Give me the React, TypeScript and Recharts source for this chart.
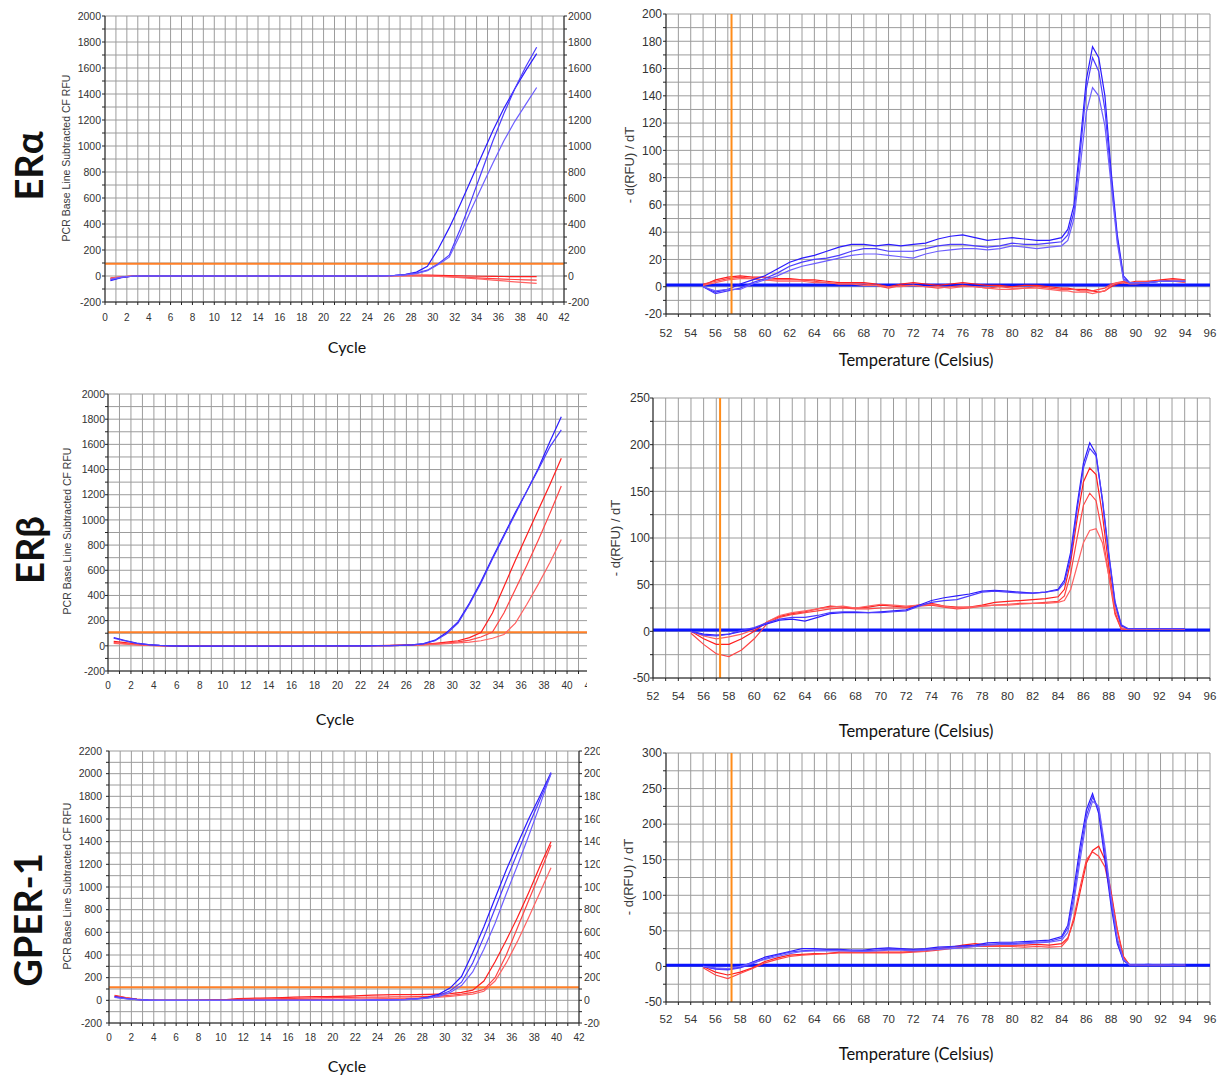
import { LineChart, Line, XAxis, YAxis, CartesianGrid, ReferenceLine } from "recharts";

// ---------- axes ----------
const AMP_X_TICKS = [0, 1, 2, 3, 4, 5, 6, 7, 8, 9, 10, 11, 12, 13, 14, 15, 16, 17, 18, 19, 20, 21, 22, 23, 24, 25, 26, 27, 28, 29, 30, 31, 32, 33, 34, 35, 36, 37, 38, 39, 40, 41, 42];
const ERA_AMP_Y_TICKS = [-200, -100, 0, 100, 200, 300, 400, 500, 600, 700, 800, 900, 1000, 1100, 1200, 1300, 1400, 1500, 1600, 1700, 1800, 1900, 2000];
const GP_AMP_Y_TICKS = [-200, -100, 0, 100, 200, 300, 400, 500, 600, 700, 800, 900, 1000, 1100, 1200, 1300, 1400, 1500, 1600, 1700, 1800, 1900, 2000, 2100, 2200];
const MELT_X_TICKS = [52, 53, 54, 55, 56, 57, 58, 59, 60, 61, 62, 63, 64, 65, 66, 67, 68, 69, 70, 71, 72, 73, 74, 75, 76, 77, 78, 79, 80, 81, 82, 83, 84, 85, 86, 87, 88, 89, 90, 91, 92, 93, 94, 95, 96];
const ERA_MELT_Y_TICKS = [-20, -10, 0, 10, 20, 30, 40, 50, 60, 70, 80, 90, 100, 110, 120, 130, 140, 150, 160, 170, 180, 190, 200];
const ERB_MELT_Y_TICKS = [-50, -25, 0, 25, 50, 75, 100, 125, 150, 175, 200, 225, 250];
const GP_MELT_Y_TICKS = [-50, -25, 0, 25, 50, 75, 100, 125, 150, 175, 200, 225, 250, 275, 300];

// ---------- amplification (x = cycle position) ----------
const CYCLE_X = [0.5, 1.5, 2.5, 3.5, 4.5, 5.5, 6.5, 7.5, 8.5, 9.5, 10.5, 11.5, 12.5, 13.5, 14.5, 15.5, 16.5, 17.5, 18.5, 19.5, 20.5, 21.5, 22.5, 23.5, 24.5, 25.5, 26.5, 27.5, 28.5, 29.5, 30.5, 31.5, 32.5, 33.5, 34.5, 35.5, 36.5, 37.5, 38.5, 39.5];

const ERA_AMP_B1 = [-35, -12, -2, 0, 0, 0, 0, 0, 0, 0, 0, 0, 0, 0, 0, 0, 0, 0, 0, 0, 0, 0, 0, 0, 0, 2, 5, 12, 30, 75, 210, 370, 550, 740, 930, 1120, 1290, 1440, 1580, 1710];
const ERA_AMP_B2 = [-30, -10, -2, 0, 0, 0, 0, 0, 0, 0, 0, 0, 0, 0, 0, 0, 0, 0, 0, 0, 0, 0, 0, 0, 0, 1, 4, 10, 22, 45, 95, 160, 360, 580, 810, 1040, 1250, 1440, 1610, 1760];
const ERA_AMP_B3 = [-25, -8, -1, 0, 0, 0, 0, 0, 0, 0, 0, 0, 0, 0, 0, 0, 0, 0, 0, 0, 0, 0, 0, 0, 0, 1, 3, 8, 18, 40, 88, 145, 320, 510, 690, 870, 1040, 1190, 1320, 1450];
const ERA_AMP_R1 = [-20, -8, -1, 0, 0, 0, 0, 0, 0, 0, 0, 0, 0, 0, 0, 0, 0, 0, 0, 0, 0, 0, 0, 0, 0, 0, 2, 4, 6, 6, 5, 4, 2, 0, -2, -3, -4, -5, -5, -5];
const ERA_AMP_R2 = [-15, -6, -1, 0, 0, 0, 0, 0, 0, 0, 0, 0, 0, 0, 0, 0, 0, 0, 0, 0, 0, 0, 0, 0, 0, 1, 2, 3, 2, 0, -2, -5, -8, -12, -16, -20, -24, -27, -30, -32];
const ERA_AMP_R3 = [-18, -7, -1, 0, 0, 0, 0, 0, 0, 0, 0, 0, 0, 0, 0, 0, 0, 0, 0, 0, 0, 0, 0, 0, 0, 0, 0, 1, 1, 0, -3, -7, -12, -18, -24, -31, -38, -45, -51, -57];

const ERB_AMP_B1 = [65, 42, 22, 10, 3, 0, -2, -3, -3, -3, -3, -3, -3, -3, -2, -2, -2, -1, -1, 0, 0, 0, 0, 1, 2, 4, 8, 18, 45, 105, 190, 340, 510, 700, 880, 1060, 1230, 1410, 1620, 1820];
const ERB_AMP_B2 = [60, 38, 20, 9, 3, 0, -2, -3, -3, -3, -3, -3, -3, -3, -2, -2, -2, -1, -1, 0, 0, 0, 0, 1, 2, 4, 7, 16, 40, 95, 180, 330, 500, 690, 870, 1050, 1230, 1400, 1580, 1715];
const ERB_AMP_R1 = [35, 25, 14, 6, 2, 0, -2, -3, -3, -3, -3, -3, -3, -3, -3, -2, -2, -1, 0, 0, 0, 1, 1, 2, 3, 5, 8, 12, 20, 30, 40, 65, 105, 260, 470, 680, 880, 1080, 1280, 1490];
const ERB_AMP_R2 = [25, 18, 10, 4, 1, 0, -2, -3, -3, -3, -3, -3, -3, -3, -3, -2, -2, -1, 0, 0, 0, 0, 1, 1, 2, 4, 6, 10, 15, 22, 32, 45, 70, 110, 260, 450, 640, 840, 1050, 1270];
const ERB_AMP_R3 = [20, 14, 8, 3, 1, 0, -2, -3, -3, -3, -3, -3, -3, -3, -3, -2, -2, -1, 0, 0, 0, 0, 0, 1, 2, 3, 5, 8, 12, 18, 24, 30, 40, 60, 90, 180, 330, 490, 660, 845];

const GP_AMP_B1 = [32, 18, 8, 2, 0, 0, 0, 0, -1, -1, 0, 0, 0, 0, 0, 0, 0, 0, 0, 0, 0, 0, 0, 1, 3, 5, 8, 14, 28, 55, 110, 210, 420, 650, 900, 1150, 1380, 1600, 1800, 2010];
const GP_AMP_B2 = [28, 15, 6, 2, 0, 0, 0, 0, -1, -1, 0, 0, 0, 0, 0, 0, 0, 0, 0, 0, 0, 0, 0, 1, 2, 4, 7, 12, 24, 45, 85, 160, 330, 560, 810, 1060, 1300, 1540, 1770, 2000];
const GP_AMP_B3 = [25, 14, 6, 1, 0, 0, 0, 0, -1, -1, 0, 0, 0, 0, 0, 0, 0, 0, 0, 0, 0, 0, 0, 1, 2, 4, 6, 10, 20, 35, 70, 130, 250, 450, 680, 940, 1190, 1450, 1720, 2000];
const GP_AMP_R1 = [45, 25, 10, 3, 0, 0, 0, 0, 2, 4, 6, 15, 18, 20, 22, 24, 28, 30, 32, 33, 35, 38, 42, 46, 48, 50, 50, 50, 52, 55, 60, 70, 90, 170, 340, 530, 730, 950, 1180, 1400];
const GP_AMP_R2 = [40, 22, 8, 2, 0, 0, 0, 0, 1, 2, 4, 8, 10, 12, 14, 16, 18, 20, 22, 24, 25, 26, 27, 28, 29, 30, 31, 32, 35, 38, 45, 55, 70, 95, 200, 400, 640, 880, 1120, 1370];
const GP_AMP_R3 = [35, 20, 8, 2, 0, 0, 0, 0, 0, 0, 1, 2, 3, 4, 5, 6, 7, 8, 9, 10, 11, 12, 13, 14, 15, 16, 18, 20, 24, 28, 35, 45, 55, 80, 170, 330, 520, 730, 950, 1170];

// ---------- melt curves (x = temperature) ----------
const TEMPS = [55, 56, 57, 58, 59, 60, 61, 62, 63, 64, 65, 66, 67, 68, 69, 70, 71, 72, 73, 74, 75, 76, 77, 78, 79, 80, 81, 82, 83, 84, 84.5, 85, 85.5, 86, 86.5, 87, 87.5, 88, 88.5, 89, 89.5, 90, 91, 92, 93, 94];

const ERA_MELT_B1 = [0, -4, -2, 2, 5, 8, 13, 18, 21, 23, 26, 29, 31, 31, 30, 31, 30, 31, 32, 35, 37, 38, 36, 34, 35, 36, 35, 34, 34, 36, 42, 60, 105, 152, 176, 168, 140, 85, 38, 8, 3, 3, 3, 4, 4, 4];
const ERA_MELT_B2 = [0, -5, -3, -1, 3, 6, 10, 15, 18, 20, 21, 23, 26, 28, 28, 26, 26, 26, 28, 30, 31, 31, 30, 29, 30, 32, 31, 31, 32, 33, 38, 55, 98, 145, 168, 158, 130, 80, 35, 6, 3, 3, 3, 4, 4, 4];
const ERA_MELT_B3 = [0, -3, -2, -2, 2, 5, 8, 12, 15, 17, 19, 21, 23, 24, 24, 23, 22, 21, 24, 26, 27, 28, 28, 27, 28, 30, 29, 28, 29, 30, 34, 50, 88, 128, 146, 140, 118, 75, 32, 5, 3, 3, 3, 4, 4, 4];
const ERA_MELT_R1 = [1, 5, 7, 8, 7, 7, 6, 6, 5, 5, 4, 3, 3, 3, 2, 0, 2, 3, 2, 1, 2, 3, 2, 1, 1, 0, 1, 1, 0, -1, -1, -2, -2, -2, -3, -4, -3, 0, 2, 3, 3, 4, 4, 5, 6, 5];
const ERA_MELT_R2 = [2, 4, 6, 7, 6, 5, 5, 5, 5, 4, 3, 2, 2, 2, 1, -1, 1, 1, 0, -1, 0, 1, 0, -1, 0, -1, -1, 0, -1, -2, -2, -2, -3, -3, -3, -2, -1, 2, 3, 4, 3, 3, 4, 4, 5, 5];
const ERA_MELT_R3 = [1, 3, 5, 6, 6, 5, 4, 4, 4, 3, 3, 2, 2, 1, 1, 0, 0, 1, 0, 0, -1, 0, 0, -1, -2, -2, -1, -1, -2, -3, -3, -4, -4, -4, -5, -4, -3, 1, 3, 3, 2, 2, 3, 4, 4, 3];

const ERB_MELT_B1 = [0, -3, -4, -3, 0, 3, 8, 12, 13, 11, 15, 19, 20, 20, 20, 21, 22, 23, 28, 33, 36, 38, 40, 43, 44, 43, 42, 41, 42, 45, 55, 85, 135, 180, 202, 190, 140, 82, 30, 6, 3, 3, 3, 3, 3, 3];
const ERB_MELT_B2 = [0, -4, -5, -3, 1, 4, 9, 13, 15, 15, 17, 20, 21, 21, 20, 20, 21, 22, 27, 31, 33, 34, 38, 42, 43, 42, 41, 41, 42, 44, 52, 80, 130, 175, 196, 188, 142, 84, 32, 7, 3, 3, 3, 3, 3, 3];
const ERB_MELT_R1 = [0, -8, -14, -14, -8, 0, 10, 16, 19, 21, 24, 27, 26, 25, 26, 28, 27, 26, 28, 30, 27, 26, 26, 28, 31, 32, 33, 34, 35, 37, 45, 75, 120, 160, 175, 168, 125, 70, 20, 2, 2, 2, 2, 2, 2, 2];
const ERB_MELT_R2 = [-2, -14, -24, -27, -20, -8, 8, 15, 18, 20, 22, 24, 25, 24, 24, 25, 25, 25, 27, 28, 26, 24, 25, 27, 28, 29, 30, 30, 31, 32, 38, 62, 100, 135, 148, 140, 105, 60, 18, 2, 2, 2, 2, 2, 2, 2];
const ERB_MELT_R3 = [0, -5, -8, -6, -3, 2, 10, 17, 20, 22, 24, 26, 27, 25, 27, 29, 28, 27, 28, 29, 27, 25, 26, 27, 28, 28, 29, 30, 30, 31, 33, 45, 70, 95, 108, 110, 95, 60, 25, 4, 2, 2, 2, 2, 2, 2];

const GP_MELT_B1 = [0, -3, -4, -1, 6, 13, 17, 21, 25, 25, 24, 24, 23, 23, 25, 26, 25, 24, 25, 27, 28, 29, 30, 33, 34, 34, 35, 36, 37, 42, 58, 110, 170, 220, 243, 215, 150, 85, 32, 8, 2, 2, 3, 2, 3, 2];
const GP_MELT_B2 = [0, -4, -5, -2, 4, 11, 16, 20, 22, 23, 23, 23, 22, 22, 23, 24, 24, 23, 24, 25, 27, 28, 29, 31, 32, 32, 33, 34, 35, 40, 54, 100, 160, 212, 238, 222, 160, 92, 36, 9, 2, 2, 2, 2, 2, 2];
const GP_MELT_B3 = [0, -2, -3, 0, 5, 10, 14, 18, 21, 22, 22, 22, 22, 21, 22, 23, 23, 22, 23, 24, 25, 26, 28, 30, 31, 31, 32, 33, 34, 37, 48, 92, 150, 205, 232, 225, 168, 98, 40, 10, 2, 2, 2, 2, 2, 2];
const GP_MELT_R1 = [0, -8, -12, -8, -2, 7, 12, 16, 17, 18, 18, 20, 20, 20, 20, 20, 20, 21, 22, 25, 27, 30, 32, 30, 30, 30, 30, 31, 30, 32, 40, 65, 105, 145, 163, 169, 150, 105, 52, 14, 2, 2, 2, 2, 2, 2];
const GP_MELT_R2 = [-2, -12, -17, -10, -3, 5, 10, 14, 16, 17, 18, 19, 19, 19, 19, 19, 19, 20, 21, 23, 25, 27, 28, 28, 28, 28, 27, 28, 27, 28, 38, 70, 112, 150, 161, 155, 140, 100, 50, 12, 2, 2, 2, 2, 2, 2];

const BLUES = ["#2a1aff", "#4b3bff", "#6d5eff"];
const REDS = ["#ff1f1f", "#ff4444", "#ff6262"];

type Series = { key: string; color: string; values: number[] };

type PanelProps = {
  left: number; top: number; plotW: number; plotH: number;
  yW: number; rightW: number; rightAxis?: boolean; clipW?: number;
  mTop: number; xH: number;
  xs: number[]; series: Series[];
  xDomain: [number, number]; xTicks: number[];
  yDomain: [number, number]; yTicks: number[]; yEvery: number;
  fx: number; fy: number; xMargin: number; yMargin: number; rMargin?: number;
  threshold?: number; vline?: number; hline?: number;
};

const every = (n: number) => (v: number) => (Math.abs(v % n) < 1e-9 ? String(v) : "");

function Panel(p: PanelProps) {
  const width = p.yW + p.plotW + p.rightW;
  const height = p.mTop + p.plotH + p.xH;
  const data = p.xs.map((x, i) => {
    const row: Record<string, number> = { x };
    p.series.forEach((s) => (row[s.key] = s.values[i]));
    return row;
  });
  const axisStyle = { stroke: "#222" };
  return (
    <div
      style={{
        position: "absolute",
        left: p.left - p.yW,
        top: p.top - p.mTop,
        width: p.clipW ?? width,
        height,
        overflow: "hidden",
      }}
    >
      <LineChart
        width={width}
        height={height}
        data={data}
        margin={{ top: p.mTop, right: p.rightAxis ? 0 : p.rightW, bottom: 0, left: 0 }}
      >
        <CartesianGrid yAxisId="l" stroke="#9c9c9c" strokeWidth={1} />
        <XAxis
          type="number"
          dataKey="x"
          domain={p.xDomain}
          ticks={p.xTicks}
          interval={0}
          allowDataOverflow
          height={p.xH}
          tickFormatter={every(2)}
          axisLine={axisStyle}
          tickLine={axisStyle}
          tickSize={3}
          tickMargin={p.xMargin}
          tick={{ fill: "#333", fontSize: p.fx }}
        />
        <YAxis
          yAxisId="l"
          type="number"
          domain={p.yDomain}
          ticks={p.yTicks}
          interval={0}
          allowDataOverflow
          width={p.yW}
          tickFormatter={every(p.yEvery)}
          axisLine={axisStyle}
          tickLine={axisStyle}
          tickSize={3}
          tickMargin={p.yMargin}
          tick={{ fill: "#333", fontSize: p.fy }}
        />
        {p.rightAxis && (
          <YAxis
            yAxisId="r"
            orientation="right"
            type="number"
            domain={p.yDomain}
            ticks={p.yTicks}
            interval={0}
            allowDataOverflow
            width={p.rightW}
            tickFormatter={every(p.yEvery)}
            axisLine={axisStyle}
            tickLine={axisStyle}
            tickSize={3}
            tickMargin={p.rMargin ?? 1}
            tick={{ fill: "#333", fontSize: p.fy }}
          />
        )}
        {p.threshold !== undefined && (
          <ReferenceLine yAxisId="l" y={p.threshold} stroke="#ff7f27" strokeWidth={2} />
        )}
        {p.hline !== undefined && (
          <ReferenceLine yAxisId="l" y={p.hline} stroke="#0a14ff" strokeWidth={3} />
        )}
        {p.series.map((s) => (
          <Line
            key={s.key}
            yAxisId="l"
            type="linear"
            dataKey={s.key}
            stroke={s.color}
            strokeWidth={1.2}
            dot={false}
            isAnimationActive={false}
          />
        ))}
        {p.vline !== undefined && (
          <ReferenceLine yAxisId="l" x={p.vline} stroke="#ff8c1a" strokeWidth={2} />
        )}
      </LineChart>
    </div>
  );
}

const amp = (b: number[][], r: number[][]): Series[] => [
  ...r.map((v, i) => ({ key: "r" + i, color: REDS[i], values: v })),
  ...b.map((v, i) => ({ key: "b" + i, color: BLUES[i], values: v })),
];

function Label({ text, x, y, size, rotate, weight, family, color }: {
  text: string; x: number; y: number; size: number; rotate?: boolean; weight?: number; family?: string; color?: string;
}) {
  return (
    <div
      style={{
        position: "absolute",
        left: x,
        top: y,
        transform: `translate(-50%, -50%)${rotate ? " rotate(-90deg)" : ""}`,
        fontSize: size,
        fontWeight: weight ?? 400,
        fontFamily: family ?? "Lato, 'Liberation Sans', sans-serif",
        color: color ?? "#111",
        whiteSpace: "nowrap",
        lineHeight: 1,
      }}
    >
      {text}
    </div>
  );
}

export default function App() {
  const tick = "'Liberation Sans', Arial, sans-serif";
  return (
    <div
      style={{
        position: "absolute",
        left: 0,
        top: 0,
        width: 1225,
        height: 1076,
        background: "#fff",
        fontFamily: tick,
        overflow: "hidden",
      }}
    >
      {/* ERα */}
      <Panel
        left={105} top={16} plotW={459} plotH={286} yW={40} rightW={40} rightAxis mTop={8} xH={28}
        xs={CYCLE_X} series={amp([ERA_AMP_B1, ERA_AMP_B2, ERA_AMP_B3], [ERA_AMP_R1, ERA_AMP_R2, ERA_AMP_R3])}
        xDomain={[0, 42]} xTicks={AMP_X_TICKS} yDomain={[-200, 2000]} yTicks={ERA_AMP_Y_TICKS} yEvery={200}
        fx={10} fy={10.5} xMargin={9} yMargin={1} threshold={95}
      />
      <Panel
        left={666} top={14} plotW={544} plotH={300} yW={44} rightW={14} mTop={8} xH={32}
        xs={TEMPS} series={amp([ERA_MELT_B1, ERA_MELT_B2, ERA_MELT_B3], [ERA_MELT_R1, ERA_MELT_R2, ERA_MELT_R3])}
        xDomain={[52, 96]} xTicks={MELT_X_TICKS} yDomain={[-20, 200]} yTicks={ERA_MELT_Y_TICKS} yEvery={20}
        fx={11.5} fy={12} xMargin={12} yMargin={1} vline={57.3} hline={1.3}
      />
      {/* ERβ */}
      <Panel
        left={108} top={394} plotW={482} plotH={277} yW={44} rightW={12} clipW={523} mTop={8} xH={28}
        xs={CYCLE_X} series={amp([ERB_AMP_B1, ERB_AMP_B2], [ERB_AMP_R1, ERB_AMP_R2, ERB_AMP_R3])}
        xDomain={[0, 42]} xTicks={AMP_X_TICKS} yDomain={[-200, 2000]} yTicks={ERA_AMP_Y_TICKS} yEvery={200}
        fx={10} fy={10.5} xMargin={8} yMargin={0} threshold={107}
      />
      <Panel
        left={653} top={398} plotW={557} plotH={280} yW={44} rightW={14} mTop={8} xH={32}
        xs={TEMPS} series={amp([ERB_MELT_B1, ERB_MELT_B2], [ERB_MELT_R1, ERB_MELT_R2, ERB_MELT_R3])}
        xDomain={[52, 96]} xTicks={MELT_X_TICKS} yDomain={[-50, 250]} yTicks={ERB_MELT_Y_TICKS} yEvery={50}
        fx={11.5} fy={12} xMargin={11} yMargin={0} vline={57.3} hline={1.3}
      />
      {/* GPER-1 */}
      <Panel
        left={109} top={751} plotW={470} plotH={272} yW={44} rightW={40} rightAxis clipW={535} mTop={8} xH={28}
        xs={CYCLE_X} series={amp([GP_AMP_B1, GP_AMP_B2, GP_AMP_B3], [GP_AMP_R1, GP_AMP_R2, GP_AMP_R3])}
        xDomain={[0, 42]} xTicks={AMP_X_TICKS} yDomain={[-200, 2200]} yTicks={GP_AMP_Y_TICKS} yEvery={200}
        fx={10} fy={10.5} xMargin={8} yMargin={4} rMargin={2} threshold={115}
      />
      <Panel
        left={666} top={753} plotW={544} plotH={249} yW={44} rightW={14} mTop={8} xH={32}
        xs={TEMPS} series={amp([GP_MELT_B1, GP_MELT_B2, GP_MELT_B3], [GP_MELT_R1, GP_MELT_R2])}
        xDomain={[52, 96]} xTicks={MELT_X_TICKS} yDomain={[-50, 300]} yTicks={GP_MELT_Y_TICKS} yEvery={50}
        fx={11.5} fy={12} xMargin={10} yMargin={1} vline={57.3} hline={1.5}
      />

      {/* gene labels */}
      <Label text="ERα" x={28} y={166} size={38} rotate weight={700} />
      <Label text="ERβ" x={29} y={550} size={38} rotate weight={700} />
      <Label text="GPER-1" x={27} y={920} size={38} rotate weight={700} />

      {/* axis titles */}
      <Label text="PCR Base Line Subtracted CF RFU" x={66} y={158} size={10.5} rotate family={tick} color="#3a3a3a" />
      <Label text="PCR Base Line Subtracted CF RFU" x={67} y={531} size={10.5} rotate family={tick} color="#3a3a3a" />
      <Label text="PCR Base Line Subtracted CF RFU" x={67} y={886} size={10.5} rotate family={tick} color="#3a3a3a" />
      <Label text="- d(RFU) / dT" x={629} y={165} size={13} rotate family={tick} color="#3a3a3a" />
      <Label text="- d(RFU) / dT" x={615} y={538} size={13} rotate family={tick} color="#3a3a3a" />
      <Label text="- d(RFU) / dT" x={628} y={877} size={13} rotate family={tick} color="#3a3a3a" />
      <Label text="Cycle" x={347} y={347} size={16} />
      <Label text="Cycle" x={335} y={719} size={16} />
      <Label text="Cycle" x={347} y={1066} size={16} />
      <Label text="Temperature (Celsius)" x={916} y={360} size={16.5} />
      <Label text="Temperature (Celsius)" x={916} y={731} size={16.5} />
      <Label text="Temperature (Celsius)" x={916} y={1054} size={16.5} />
    </div>
  );
}
